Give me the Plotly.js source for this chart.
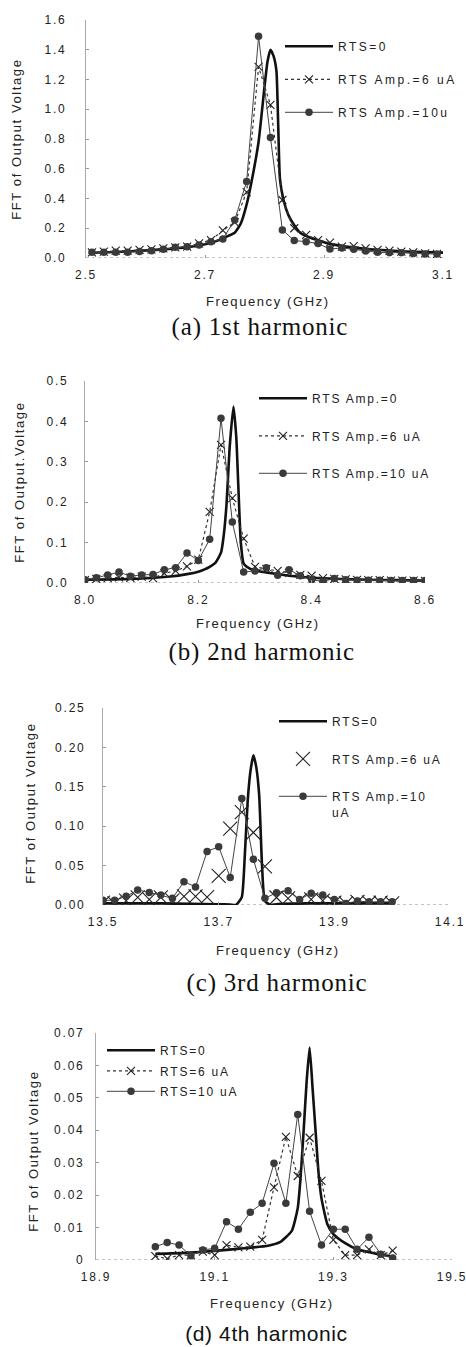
<!DOCTYPE html>
<html><head><meta charset="utf-8">
<script src="https://cdn.plot.ly/plotly-3.0.1.min.js"></script>
<style>
html,body{margin:0;padding:0;background:#fff;}
#chart{width:466px;height:1347px;}
</style></head>
<body><div id="chart"></div>
<script>
// ---------- DATA ----------
// (a) 1st harmonic
const h1Freq = [2.51,2.53,2.55,2.57,2.59,2.61,2.63,2.65,2.67,2.69,2.71,2.73,2.75,2.77,2.79,2.81,2.83,2.85,2.87,2.89,2.91,2.93,2.95,2.97,2.99,3.01,3.03,3.05,3.07,3.09];
const h1Amp6 = [0.038,0.043,0.050,0.050,0.054,0.058,0.065,0.072,0.076,0.099,0.120,0.185,0.240,0.443,1.285,1.030,0.390,0.200,0.155,0.120,0.103,0.076,0.080,0.065,0.054,0.050,0.043,0.038,0.031,0.027];
const h1Amp10 = [0.038,0.038,0.038,0.038,0.043,0.049,0.058,0.072,0.076,0.088,0.110,0.128,0.256,0.515,1.490,0.810,0.189,0.117,0.110,0.097,0.060,0.068,0.058,0.047,0.038,0.036,0.036,0.030,0.027,0.027];
const h1FreqLine = [2.51,2.55,2.59,2.63,2.67,2.70,2.72,2.74,2.75,2.76,2.77,2.78,2.79,2.80,2.805,2.81,2.815,2.82,2.823,2.826,2.832,2.84,2.85,2.86,2.875,2.89,2.91,2.95,2.99,3.03,3.07,3.11];
const h1Amp0 = [0.035,0.040,0.048,0.058,0.072,0.092,0.115,0.150,0.170,0.230,0.360,0.550,0.780,1.150,1.320,1.400,1.360,1.260,0.900,0.530,0.390,0.290,0.220,0.170,0.140,0.120,0.095,0.070,0.055,0.045,0.040,0.035];
// (b) 2nd harmonic
const h2Freq = [8.00,8.02,8.04,8.06,8.08,8.10,8.12,8.14,8.16,8.18,8.20,8.22,8.24,8.26,8.28,8.30,8.32,8.34,8.36,8.38,8.40,8.42,8.44,8.46,8.48,8.50,8.52,8.54,8.56,8.58,8.60];
const h2Amp6 = [0.007,0.010,0.012,0.014,0.013,0.016,0.012,0.024,0.030,0.041,0.058,0.176,0.342,0.210,0.110,0.040,0.035,0.030,0.025,0.020,0.018,0.012,0.010,0.009,0.008,0.007,0.007,0.006,0.006,0.006,0.005];
const h2Amp10 = [0.008,0.013,0.020,0.027,0.017,0.020,0.021,0.033,0.038,0.074,0.056,0.108,0.408,0.151,0.027,0.030,0.038,0.019,0.033,0.018,0.008,0.004,0.011,0.008,0.007,0.007,0.007,0.006,0.006,0.006,0.006];
const h2FreqLine = [8.00,8.05,8.10,8.15,8.18,8.20,8.21,8.22,8.23,8.24,8.245,8.25,8.255,8.262,8.267,8.27,8.275,8.28,8.29,8.30,8.33,8.36,8.40,8.45,8.50,8.55,8.60];
const h2Amp0 = [0.008,0.009,0.011,0.016,0.022,0.028,0.033,0.040,0.050,0.075,0.120,0.200,0.330,0.437,0.360,0.260,0.100,0.048,0.036,0.031,0.024,0.018,0.013,0.010,0.008,0.007,0.006];
// (c) 3rd harmonic
const h3Freq = [13.50,13.52,13.54,13.56,13.58,13.60,13.62,13.64,13.66,13.68,13.70,13.72,13.74,13.76,13.78,13.80,13.82,13.84,13.86,13.88,13.90,13.92,13.94,13.96,13.98,14.00];
const h3Amp6 = [0.003,0.002,0.0055,0.0097,0.007,0.0097,0.006,0.011,0.011,0.010,0.037,0.097,0.118,0.092,0.049,0.0095,0.0085,0.0055,0.007,0.0055,0.003,0.002,0.004,0.003,0.003,0.002];
const h3Amp10 = [0.006,0.006,0.011,0.019,0.016,0.0127,0.0085,0.0296,0.023,0.068,0.074,0.035,0.135,0.058,0.0085,0.0157,0.018,0.007,0.015,0.0127,0.007,0.002,0.005,0.004,0.004,0.004];
const h3FreqLine = [13.50,13.55,13.60,13.65,13.70,13.72,13.73,13.74,13.745,13.75,13.755,13.76,13.765,13.77,13.775,13.78,13.79,13.80,13.85,13.90,13.95,14.00];
const h3Amp0 = [0.002,0.002,0.002,0.0015,0.001,0.0005,0.0,0.010,0.060,0.130,0.170,0.190,0.175,0.140,0.050,0.005,0.0,0.001,0.002,0.002,0.002,0.002];
// (d) 4th harmonic
const h4Freq = [19.00,19.02,19.04,19.06,19.08,19.10,19.12,19.14,19.16,19.18,19.20,19.22,19.24,19.26,19.28,19.30,19.32,19.34,19.36,19.38,19.40];
const h4Amp6 = [0.0012,0.0004,0.0015,0.0015,0.0026,0.0015,0.0046,0.0039,0.0041,0.0062,0.0224,0.0380,0.0259,0.0377,0.0244,0.0062,0.0015,0.0015,0.0033,0.0015,0.0029];
const h4Amp10 = [0.0041,0.0054,0.0046,0.0013,0.0031,0.0036,0.0118,0.0095,0.0147,0.0175,0.0298,0.0175,0.0449,0.0150,0.0046,0.0095,0.0095,0.0033,0.0070,0.0018,0.0006];
const h4FreqLine = [19.00,19.05,19.10,19.15,19.19,19.21,19.23,19.24,19.245,19.25,19.255,19.26,19.265,19.27,19.275,19.28,19.29,19.30,19.32,19.34,19.37,19.40];
const h4Amp0 = [0.0019,0.0022,0.0028,0.0036,0.0044,0.0055,0.0090,0.0160,0.0260,0.0400,0.0550,0.0655,0.0530,0.0400,0.0270,0.0190,0.0110,0.0080,0.0052,0.0033,0.0020,0.0010];

// tick labels
const x1Ticks = [2.5,2.7,2.9,3.1], x1TickText = ['2.5','2.7','2.9','3.1'];
const y1Ticks = [0,0.2,0.4,0.6,0.8,1.0,1.2,1.4,1.6], y1TickText = ['0.0','0.2','0.4','0.6','0.8','1.0','1.2','1.4','1.6'];
const x2Ticks = [8.0,8.2,8.4,8.6], x2TickText = ['8.0','8.2','8.4','8.6'];
const y2Ticks = [0,0.1,0.2,0.3,0.4,0.5], y2TickText = ['0.0','0.1','0.2','0.3','0.4','0.5'];
const x3Ticks = [13.5,13.7,13.9,14.1], x3TickText = ['13.5','13.7','13.9','14.1'];
const y3Ticks = [0,0.05,0.10,0.15,0.20,0.25], y3TickText = ['0.00','0.05','0.10','0.15','0.20','0.25'];
const x4Ticks = [18.9,19.1,19.3,19.5], x4TickText = ['18.9','19.1','19.3','19.5'];
const y4Ticks = [0,0.01,0.02,0.03,0.04,0.05,0.06,0.07], y4TickText = ['0','0.01','0.02','0.03','0.04','0.05','0.06','0.07'];

// legend labels and captions
const legendNames = [
  ['RTS=0','RTS Amp.=6 uA','RTS Amp.=10u'],
  ['RTS Amp.=0','RTS Amp.=6 uA','RTS Amp.=10 uA'],
  ['RTS=0','RTS Amp.=6 uA','RTS Amp.=10<br>uA'],
  ['RTS=0','RTS=6 uA','RTS=10 uA']
];
const yTitles = ['FFT of Output Voltage','FFT of Output.Voltage','FFT of Output Voltage','FFT of Output Voltage'];
const xTitle = 'Frequency (GHz)';
const captions = ['(a) 1st harmonic','(b) 2nd harmonic','(c) 3rd harmonic','(d) 4th harmonic'];

// ---------- LAYOUT ----------
const W = 466, H = 1347;
const boxes = [
  {l:86, r:443, t:20, b:258},
  {l:85, r:425, t:381, b:583},
  {l:103, r:450, t:708, b:905},
  {l:96, r:452, t:1033, b:1260}
];
const panels = [
  {fx:h1Freq, a6:h1Amp6, a10:h1Amp10, lx:h1FreqLine, a0:h1Amp0, xr:[2.5,3.1], yr:[0,1.6], xt:x1Ticks, xtt:x1TickText, yt:y1Ticks, ytt:y1TickText},
  {fx:h2Freq, a6:h2Amp6, a10:h2Amp10, lx:h2FreqLine, a0:h2Amp0, xr:[8.0,8.6], yr:[0,0.5], xt:x2Ticks, xtt:x2TickText, yt:y2Ticks, ytt:y2TickText},
  {fx:h3Freq, a6:h3Amp6, a10:h3Amp10, lx:h3FreqLine, a0:h3Amp0, xr:[13.5,14.1], yr:[0,0.25], xt:x3Ticks, xtt:x3TickText, yt:y3Ticks, ytt:y3TickText},
  {fx:h4Freq, a6:h4Amp6, a10:h4Amp10, lx:h4FreqLine, a0:h4Amp0, xr:[18.9,19.5], yr:[0,0.07], xt:x4Ticks, xtt:x4TickText, yt:y4Ticks, ytt:y4TickText}
];
const ySt = [16, 13, 14, 8];
const legPos = [ {x:280,y:32,gap:14}, {x:254,y:384,gap:18.5}, {x:274,y:707,gap:18.5}, {x:102,y:1036,gap:1.5} ];
const yTitlePos = [[17,139],[20,482],[30,803],[33,1151]];
const xTitlePos = [[268,302],[258,623],[278,950],[272,1303]];
const capPos = [[260,327],[262,652],[277,983],[266,1333]];

const tickFont = {family:'Liberation Sans, Arial, sans-serif', size:12, color:'#222'};
const data = [];
const layout = {
  width:W, height:H, margin:{l:0,r:0,t:0,b:0,autoexpand:false},
  paper_bgcolor:'#fff', plot_bgcolor:'rgba(0,0,0,0)', showlegend:true,
  annotations:[], shapes:[]
};

panels.forEach((p,i)=>{
  const s = i===0 ? '' : String(i+1);
  const b = boxes[i];
  layout['xaxis'+s] = {domain:[b.l/W,b.r/W], range:p.xr, anchor:'y'+s, tickmode:'array', tickvals:p.xt, ticktext:p.xtt,
    ticks:'inside', ticklen:3, tickcolor:'#999', showline:false, showgrid:false, zeroline:false,
    ticklabelstandoff:8, tickfont:tickFont, fixedrange:true};
  layout['yaxis'+s] = {domain:[1-b.b/H,1-b.t/H], range:p.yr, anchor:'x'+s, tickmode:'array', tickvals:p.yt, ticktext:p.ytt,
    ticks:'inside', ticklen:3, tickcolor:'#999', showline:true, linecolor:'#aaa', linewidth:1, showgrid:false, zeroline:false,
    ticklabelstandoff:ySt[i], tickfont:tickFont, fixedrange:true};
  const lg = 'legend'+s;
  layout[lg] = {x:legPos[i].x/W, y:1-legPos[i].y/H, xanchor:'left', yanchor:'top', bgcolor:'rgba(0,0,0,0)', borderwidth:0,
    font:{family:'Liberation Sans, Arial, sans-serif', size:12, color:'#222'}, traceorder:'grouped', tracegroupgap:legPos[i].gap,
    valign:'top', itemwidth:48};
  layout.shapes.push({type:'line', xref:'x'+s+' domain', yref:'y'+s, x0:0, x1:1, y0:0, y1:0, layer:'below',
    line:{color:'#888', width:1, dash:'dot'}});

  data.push({type:'scatter', mode:'lines', x:p.lx, y:p.a0, name:legendNames[i][0], xaxis:'x'+s, yaxis:'y'+s, legend:lg, legendgroup:'a'+i,
    line:{color:'#111', width:2.6, shape:'spline', smoothing:0.5}});
  if(i===2){
    data.push({type:'scatter', mode:'markers', x:p.fx, y:p.a6, name:legendNames[i][1], xaxis:'x'+s, yaxis:'y'+s, legend:lg, legendgroup:'b'+i,
      marker:{symbol:'x-thin-open', size:14, color:'#222', line:{color:'#222', width:1.1}}});
  } else {
    data.push({type:'scatter', mode:'lines+markers', x:p.fx, y:p.a6, name:legendNames[i][1], xaxis:'x'+s, yaxis:'y'+s, legend:lg, legendgroup:'b'+i,
      line:{color:'#333', width:1.2, dash:'dot'}, marker:{symbol:'x-thin-open', size:8, color:'#222', line:{color:'#222', width:1.1}}});
  }
  data.push({type:'scatter', mode:'lines+markers', x:p.fx, y:p.a10, name:legendNames[i][2], xaxis:'x'+s, yaxis:'y'+s, legend:lg, legendgroup:'c'+i,
    line:{color:'#444', width:1}, marker:{symbol:'circle', size:7.5, color:'#3a3a3a'}});
});

// axis titles (indices 0..7) and captions (8..11)
yTitlePos.forEach((pp,i)=>{
  layout.annotations.push({xref:'paper', yref:'paper', x:pp[0]/W, y:1-pp[1]/H, xanchor:'center', yanchor:'middle', showarrow:false,
    text:yTitles[i], textangle:-90, font:{family:'Liberation Sans, Arial, sans-serif', size:13, color:'#222'}});
});
xTitlePos.forEach((pp,i)=>{
  layout.annotations.push({xref:'paper', yref:'paper', x:pp[0]/W, y:1-pp[1]/H, xanchor:'center', yanchor:'middle', showarrow:false,
    text:xTitle, font:{family:'Liberation Sans, Arial, sans-serif', size:13, color:'#222'}});
});
capPos.forEach((pp,i)=>{
  const serif = i<3;
  layout.annotations.push({xref:'paper', yref:'paper', x:pp[0]/W, y:1-pp[1]/H, xanchor:'center', yanchor:'middle', showarrow:false,
    text:captions[i], font:{family: serif ? 'Liberation Serif, Times New Roman, serif' : 'Liberation Sans, Arial, sans-serif', size: serif ? 25 : 21, color:'#111'}});
});

Plotly.newPlot('chart', data, layout, {staticPlot:true, displayModeBar:false}).then(gd=>{
  // wide letter spacing as in the original figure's font
  gd.querySelectorAll('svg text').forEach(t=>{
    const ann = t.closest('.annotation');
    if(ann){
      const idx = +ann.getAttribute('data-index');
      t.style.letterSpacing = idx >= 8 ? (idx === 11 ? '0.6px' : '0.8px') : '1.6px';
      return;
    }
    if(t.classList.contains('legendtext')){ t.style.letterSpacing = '2.5px'; return; }
    t.style.letterSpacing = '1.8px';
  });
  // legend boxes were sized before the spacing: let the text show in full
  gd.querySelectorAll('g.scrollbox, [class^="legend"]').forEach(g=>{
    if(g.hasAttribute('clip-path')) g.removeAttribute('clip-path');
  });
});
</script></body></html>
